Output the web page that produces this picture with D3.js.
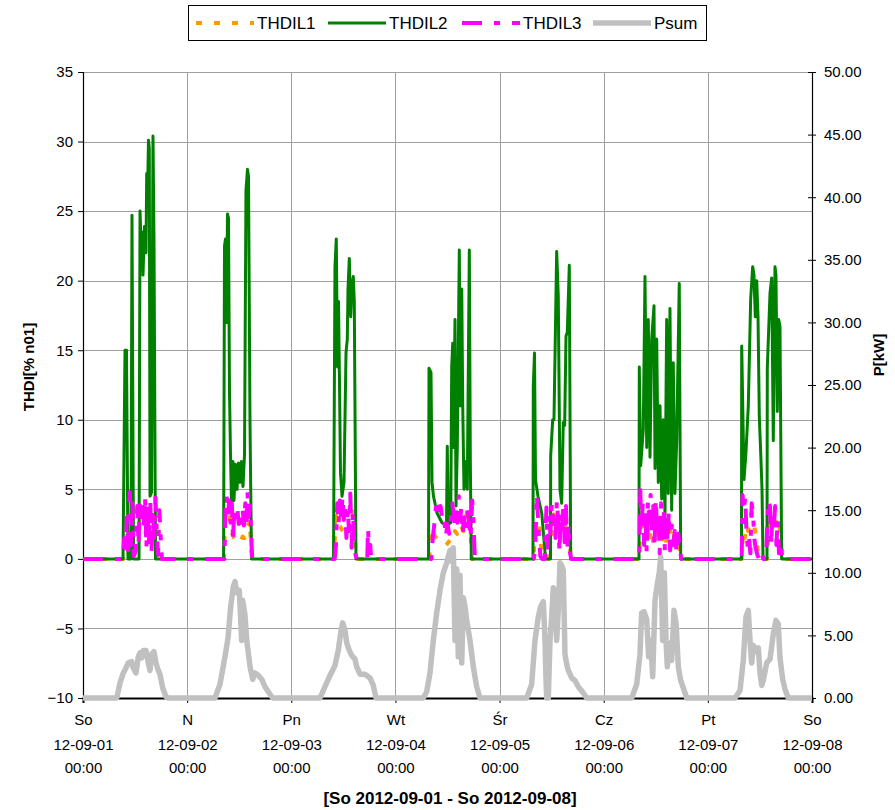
<!DOCTYPE html>
<html lang="pl">
<head>
<meta charset="UTF-8">
<title>THDI / Psum 2012-09-01 - 2012-09-08</title>
<script src="https://cdnjs.cloudflare.com/ajax/libs/d3/7.8.5/d3.min.js"></script>
<style>
  body { margin: 0; background: #fff; }
  svg text { font-family: Arial, "Liberation Sans", sans-serif; fill: #000; }
</style>
</head>
<body>
<div id="chart"></div>
<script>
// every point is [hours since 2012-09-01 00:00, value]
var thdil1 = [
  [0,0],[9.3,0],[9.7,0.8],[10.2,1.5],[10.6,0.3],[11.2,2.0],[11.7,0.5],[12.5,0.8],[13.0,2.5],[13.4,3.5],[13.8,2.6],[14.2,3.2],[14.6,2.0],[15.0,3.7],[15.4,2.8],[15.8,1.8],[16.2,3.0],[16.6,1.2],[17.0,0.3],[17.4,0],
  [32.5,0],[32.8,3.7],[33.2,3.0],[33.6,3.4],[34.0,2.5],[34.4,1.8],[34.8,1.5],[35.2,1.3],[35.6,1.2],[36.0,1.4],[36.4,1.3],[36.8,1.6],[37.2,1.5],[37.6,2.2],[38.0,2.4],[38.4,2.8],[38.8,0.5],[39.0,0],
  [57.9,0],[58.2,3.5],[58.5,2.6],[58.8,2.2],[59.2,2.4],[59.6,2.1],[60.0,2.6],[60.4,2.9],[60.8,3.1],[61.2,3.3],[61.6,3.6],[62.0,3.0],[62.4,3.4],[62.8,0.5],[63.0,0],
  [79.8,0],[80.2,2.2],[80.7,1.9],[81.2,1.6],[81.7,1.4],[82.2,1.2],[82.7,1.1],[83.2,1.0],[83.7,1.0],[84.2,1.2],[84.7,1.4],[85.2,1.3],[85.7,2.0],[86.2,1.8],[86.7,2.5],[87.2,2.3],[87.7,2.0],[88.2,3.0],[88.7,3.5],[89.2,2.6],[89.6,0],
  [103.8,0],[104.2,2.0],[104.7,1.5],[105.2,2.2],[105.7,0.3],[106.4,0],[107.2,0],[107.5,2.0],[108.0,1.6],[108.5,3.2],[109.0,2.2],[109.5,1.5],[110.0,2.4],[110.5,1.8],[111.0,2.3],[111.5,1.6],[112.0,2.0],[112.4,0],
  [128.2,0],[128.5,3.0],[129.0,2.2],[129.5,1.5],[130.0,2.6],[130.5,1.2],[131.0,2.8],[131.5,0.8],[132.0,2.3],[132.5,1.6],[133.0,3.3],[133.5,1.4],[134.0,2.7],[134.5,0.9],[135.0,2.5],[135.5,1.8],[136.0,2.2],[136.5,0.7],[137.0,1.6],[137.6,0.4],[137.8,0],
  [151.8,0],[152.1,2.0],[152.5,1.5],[152.9,2.4],[153.3,2.0],[153.7,3.0],[154.1,3.3],[154.5,2.6],[154.9,2.0],[155.3,1.2],[155.7,0],[157.7,0],[158.0,2.2],[158.4,2.8],[158.8,3.3],[159.2,2.5],[159.6,3.0],[160.0,2.2],[160.4,2.6],[160.8,1.5],[161.1,0],[168,0]
];

var thdil2 = [
  [0,0],[9.22,0],[9.68,15],[10.02,15],[10.37,0],[11.06,0],[11.29,24.7],[11.64,0],[12.91,0],[13.14,25],[13.48,21.5],[13.6,23.5],[13.83,20.4],[14.17,23.9],[14.52,22],[14.68,27.7],[14.86,26],[15.09,30.1],[15.28,29.5],[15.44,4.5],[15.79,4.8],[16.13,30.4],[16.36,23],[16.71,0],
  [32.4,0],[32.61,22.5],[32.84,23],[33.07,17],[33.3,24.8],[33.53,24.5],[33.76,12],[33.99,7.6],[34.22,4.0],[34.57,7],[34.8,4.2],[35.14,6.8],[35.49,5],[35.84,6.9],[36.18,5.5],[36.53,7],[36.87,5.2],[37.22,7.5],[37.56,26.5],[37.91,28.0],[38.14,27.5],[38.48,10],[38.83,0],
  [57.73,0],[58.07,21],[58.37,23.0],[58.65,13.8],[58.88,18.5],[59.06,14],[59.34,6.2],[59.69,4.5],[60.15,5.5],[60.61,14.8],[60.91,15.8],[61.07,19.4],[61.37,21.6],[61.69,17.4],[61.99,19.6],[62.29,20.3],[62.52,18.5],[62.91,0],
  [79.62,0],[79.74,13.7],[80.2,13.4],[80.43,5.5],[80.77,4.5],[81.58,3.3],[82.73,2.6],[83.77,2.4],[83.95,8.1],[84.18,2.5],[84.74,2.6],[84.97,13.8],[85.2,15.5],[85.34,8],[85.73,17.2],[85.96,3.8],[86.26,8],[86.72,22.2],[86.95,11],[87.28,19.4],[87.51,11],[87.8,5],[88.26,7],[88.56,5],[89.03,22.2],[89.26,7],[89.49,0],
  [103.7,0],[103.77,12.4],[104.05,14.8],[104.28,5.7],[104.85,4.5],[105.71,3.3],[106.47,0.5],[106.7,0],[107.74,0],[107.78,7.4],[108.24,10],[108.54,10],[109.16,22.1],[109.53,18.9],[109.92,5],[110.31,4],[110.68,9.8],[111.0,9.6],[111.31,16],[111.61,16.3],[112.07,21.1],[112.39,0],
  [128.13,0],[128.2,13.8],[128.52,6.7],[129.12,9.3],[129.51,20.3],[129.91,8],[130.27,17.2],[130.67,7.3],[131.06,15.8],[131.59,18.2],[131.82,6.5],[132.21,15.8],[132.58,5.5],[132.97,11],[133.36,4.3],[133.73,10],[134.12,3],[134.51,17.2],[134.88,4.7],[135.27,18],[135.66,3.5],[136.03,14.1],[136.42,4.7],[136.82,8.5],[137.41,19.8],[137.74,0],
  [151.75,0],[151.8,15.3],[152.33,5.7],[152.79,7.7],[153.32,11],[153.87,18.7],[154.33,21.0],[154.63,20.4],[154.93,17.4],[155.26,20],[155.56,17.4],[155.86,10.2],[156.18,7.6],[156.48,5],[156.71,0],[157.63,0],[157.7,13.7],[158.32,19.1],[158.71,20.2],[159.08,8.5],[159.47,21.0],[159.7,20.4],[160.0,10.6],[160.32,17.2],[160.62,16.7],[161.01,0],[168,0]
];

var thdil3 = [
  [0,0],[9.2,0],[9.5,1.5],[9.8,0.3],[10.1,3.0],[10.4,0.5],[10.8,4.8],[11.1,1.0],[11.4,4.0],[11.7,0.2],[12.1,0.5],[12.5,3.8],[12.8,1.0],[13.1,4.2],[13.4,3.0],[13.7,4.0],[14.0,2.2],[14.3,4.5],[14.6,0.8],[14.9,3.6],[15.2,1.2],[15.5,4.3],[15.8,0.5],[16.1,3.4],[16.4,1.5],[16.7,4.4],[17.0,2.0],[17.3,0.3],[17.6,3.5],[18.0,1.0],[18.2,0],
  [32.6,0],[32.8,3.5],[33.1,4.5],[33.4,3.2],[33.7,4.2],[34.0,2.6],[34.3,4.0],[34.6,1.2],[34.7,2.5],[35.0,3.6],[35.3,2.8],[35.6,3.5],[35.9,2.5],[36.2,3.3],[36.5,2.6],[36.8,3.6],[37.1,2.4],[37.4,4.0],[37.7,2.8],[37.9,4.8],[38.2,3.0],[38.5,3.8],[38.8,1.5],[39.0,0],
  [58.0,0],[58.3,1.0],[58.6,4.0],[58.9,2.5],[59.2,4.2],[59.5,3.0],[59.8,4.5],[60.1,2.8],[60.4,3.8],[60.7,1.5],[61.0,3.6],[61.3,2.0],[61.6,4.7],[61.9,0.8],[62.2,3.4],[62.5,1.2],[62.8,0.3],[63.1,0],[65.5,0],[65.7,2.2],[65.9,0.5],[66.2,1.0],[66.4,0],
  [80.3,0],[80.6,1.5],[81.0,2.6],[81.5,4.3],[82.0,3.5],[82.4,3.8],[82.8,2.8],[83.2,3.0],[83.6,1.6],[84.0,2.5],[84.4,1.8],[84.8,3.0],[85.1,4.0],[85.4,3.2],[85.7,2.4],[86.0,3.8],[86.3,2.6],[86.6,4.5],[86.9,2.8],[87.2,3.7],[87.5,1.8],[87.8,3.0],[88.1,2.0],[88.5,3.5],[88.9,2.8],[89.3,1.5],[89.7,4.2],[90.0,2.5],[90.3,0],
  [103.9,0],[104.2,0.8],[104.6,4.6],[105.0,2.0],[105.4,0.2],[105.8,0],[106.4,0],[106.8,3.7],[107.1,0.8],[107.4,3.2],[107.7,1.8],[108.0,4.0],[108.3,2.5],[108.6,3.5],[108.9,1.5],[109.2,4.2],[109.5,2.8],[109.8,0.5],[110.1,3.3],[110.4,2.0],[110.7,4.0],[111.0,1.2],[111.3,3.8],[111.6,0.6],[111.9,2.5],[112.2,0.5],[112.5,0],
  [128.2,0],[128.4,5.2],[128.7,2.0],[129.0,4.0],[129.3,1.0],[129.6,3.5],[129.9,0.5],[130.2,4.2],[130.5,2.8],[130.8,4.6],[131.1,1.8],[131.4,3.8],[131.7,0.8],[132.0,4.3],[132.3,2.0],[132.6,3.3],[132.9,0.4],[133.2,4.0],[133.5,1.5],[133.8,3.6],[134.1,0.6],[134.4,2.8],[134.7,1.2],[135.0,3.4],[135.3,0.6],[135.7,2.4],[136.0,1.0],[136.4,2.0],[136.8,0.4],[137.2,1.8],[137.6,0.5],[137.9,0],
  [151.8,0],[152.0,4.6],[152.3,3.5],[152.6,4.4],[152.9,2.0],[153.2,0.8],[153.5,1.5],[153.8,0.4],[154.1,4.0],[154.4,3.3],[154.7,1.5],[155.0,0.8],[155.4,0.3],[155.8,0],[156.4,0.5],[156.8,0],[157.4,0],[157.7,2.5],[158.0,4.2],[158.3,3.8],[158.6,1.0],[158.9,3.5],[159.2,2.2],[159.5,3.8],[159.8,1.0],[160.1,2.8],[160.4,0.4],[160.8,1.2],[161.2,0],[168,0]
];

// kW, right axis
var psum = [
  [0,0],[7.77,0],[8.53,1.2],[9.29,2.0],[9.91,2.4],[10.44,2.8],[11.22,2.9],[11.59,2.4],[12.21,2.0],[12.74,3.3],[13.14,3.6],[13.53,3.2],[13.9,3.8],[14.52,3.8],[15.05,2.8],[15.44,2.2],[15.83,3.5],[16.36,3.7],[16.82,2.8],[17.35,2.2],[17.74,1.9],[18.37,0.8],[19.13,0.1],[19.66,0],
  [30.42,0],[31.57,1.1],[32.72,3.3],[33.42,4.8],[34.04,7.3],[34.64,8.9],[35.03,9.3],[35.42,8.4],[36.02,8.6],[36.57,4.6],[36.8,7.8],[37.33,6.6],[37.73,4.6],[38.49,2.5],[39.11,1.5],[39.64,2.0],[40.4,1.8],[41.18,1.5],[41.94,0.9],[42.7,0.5],[43.72,0],
  [54.62,0],[55.77,0.9],[56.92,1.8],[58.07,2.6],[58.83,3.8],[59.39,5.2],[59.85,6.0],[60.38,5.4],[60.77,4.4],[61.37,3.8],[61.92,3.4],[62.68,3.1],[63.07,2.5],[63.83,1.9],[64.98,1.9],[66.14,1.6],[66.9,1.0],[67.52,0],
  [78.42,0],[79.2,0.5],[79.97,2.0],[80.73,4.6],[81.51,6.8],[82.27,8.6],[83.03,10.0],[83.81,10.8],[84.58,11.8],[84.97,10.9],[85.34,12.0],[85.73,4.6],[86.12,10.3],[86.49,3.3],[86.88,9.8],[87.28,2.8],[87.64,8.0],[88.03,7.3],[88.42,6.2],[89.18,4.6],[89.95,2.5],[90.73,0.9],[91.49,0],
  [102.25,0],[103.4,1.1],[104.16,4.6],[104.93,6.5],[105.48,7.3],[106.08,7.7],[106.47,4.6],[106.7,1.5],[106.86,0],[107.23,0],[107.62,4.6],[108.01,6.5],[108.38,8.8],[108.77,8.2],[109.16,4.6],[109.53,7.0],[109.92,10.8],[110.31,10.6],[110.68,10.2],[111.07,3.5],[111.47,2.7],[111.84,2.2],[112.62,1.6],[113.38,1.4],[114.14,0.9],[115.3,0.4],[116.08,0],
  [126.45,0],[127.6,1.1],[128.36,3.5],[128.74,6.8],[129.28,6.9],[129.9,6.3],[130.35,3.3],[130.83,4.6],[131.29,1.7],[131.82,7.8],[132.35,9.1],[132.8,10.0],[133.13,11.3],[133.59,4.6],[133.97,10.0],[134.36,4.6],[134.66,2.5],[135.12,4.4],[135.66,3.0],[136.2,7.0],[136.66,6.0],[137.2,2.5],[137.74,1.4],[138.35,0.8],[139.13,0],
  [150.25,0],[151.41,0.6],[152.16,3.0],[152.79,6.5],[153.32,7.0],[153.71,4.6],[154.1,2.8],[154.47,4.2],[155.1,3.7],[155.63,4.0],[156.02,2.0],[156.41,1.0],[156.78,1.4],[157.55,2.8],[158.32,3.1],[159.08,5.1],[159.7,6.2],[160.23,5.9],[160.62,3.2],[161.24,1.5],[161.77,0.7],[162.54,0],[168,0]
];

var dayNames  = ["So","N","Pn","Wt","Śr","Cz","Pt","So"];
var dayDates  = ["12-09-01","12-09-02","12-09-03","12-09-04","12-09-05","12-09-06","12-09-07","12-09-08"];
var dayTimes  = ["00:00","00:00","00:00","00:00","00:00","00:00","00:00","00:00"];
var thdiTicks = [-10,-5,0,5,10,15,20,25,30,35];
var pTicks    = [0,5,10,15,20,25,30,35,40,45,50];
var seriesNames = ["THDIL1","THDIL2","THDIL3","Psum"];

(function(){
var W = 895, H = 810;
var pL = 83, pR = 812, pT = 72, pB = 698;
var t0 = new Date(2012, 8, 1);
var toDate = function(h){ return new Date(t0.getTime() + h*3600e3); };
var days = dayNames.map(function(d,i){ return d3.timeDay.offset(t0, i); });

var x = d3.scaleTime().domain([t0, days[7]]).range([pL, pR]);
var yL = d3.scaleLinear().domain([-10, 35]).range([pB, pT]);
var yR = d3.scaleLinear().domain([0, 50]).range([pB, pT]);

var svg = d3.select("#chart").append("svg").attr("width", W).attr("height", H);

// grid
svg.append("g").selectAll("line").data(thdiTicks.slice(1)).enter().append("line")
  .attr("x1", pL).attr("x2", pR)
  .attr("y1", function(d){ return Math.round(yL(d)) + 0.5; }).attr("y2", function(d){ return Math.round(yL(d)) + 0.5; })
  .attr("stroke", "#a0a0a0").attr("stroke-width", 1);
svg.append("g").selectAll("line").data(days.slice(1, 7)).enter().append("line")
  .attr("x1", function(d){ return Math.round(x(d)) + 0.5; }).attr("x2", function(d){ return Math.round(x(d)) + 0.5; })
  .attr("y1", pT).attr("y2", pB)
  .attr("stroke", "#a0a0a0").attr("stroke-width", 1);

// axes
var axL = svg.append("g").attr("transform", "translate(" + pL + ",0)")
  .call(d3.axisLeft(yL).tickValues(thdiTicks).tickSize(5).tickPadding(5));
var axR = svg.append("g").attr("transform", "translate(" + pR + ",0)")
  .call(d3.axisRight(yR).tickValues(pTicks).tickSize(4).tickPadding(8).tickFormat(d3.format(".2f")));
axR.selectAll(".tick line").attr("x1", -4);
var axB = svg.append("g").attr("transform", "translate(0," + pB + ")")
  .call(d3.axisBottom(x).tickValues(days).tickSize(5).tickFormat(""));
[axL, axR, axB].forEach(function(a){
  a.attr("font-family", null).attr("font-size", null);
  a.select(".domain").attr("stroke", "#000").attr("stroke-width", 1.2);
  a.selectAll(".tick line").attr("stroke", "#000");
  a.selectAll("text").style("font-size", "15px");
});
axB.select(".domain").attr("stroke-width", 2);

var xl = axB.selectAll(".tick").append("text").attr("text-anchor", "middle").style("font-size", "15px");
xl.append("tspan").attr("x", 0).attr("y", 27).text(function(d,i){ return dayNames[i]; });
xl.append("tspan").attr("x", 0).attr("y", 52).text(function(d,i){ return dayDates[i]; });
xl.append("tspan").attr("x", 0).attr("y", 75).text(function(d,i){ return dayTimes[i]; });

// axis titles
svg.append("text").attr("transform", "translate(34,367) rotate(-90)")
  .attr("text-anchor", "middle").style("font-size", "15px").style("font-weight", "bold").text("THDI[% n01]");
svg.append("text").attr("transform", "translate(884,355) rotate(-90)")
  .attr("text-anchor", "middle").style("font-size", "15px").style("font-weight", "bold").text("P[kW]");
svg.append("text").attr("x", 450).attr("y", 804)
  .attr("text-anchor", "middle").style("font-size", "17px").style("font-weight", "bold")
  .text("[So 2012-09-01 - So 2012-09-08]");

// series
var lineL = d3.line().x(function(d){ return x(toDate(d[0])); }).y(function(d){ return yL(d[1]); });
var lineR = d3.line().x(function(d){ return x(toDate(d[0])); }).y(function(d){ return yR(d[1]); });
var styles = [
  { color: "#ff9900", width: 4,   dash: "6,12" },
  { color: "#008000", width: 3,   dash: null },
  { color: "#ff00ff", width: 4,   dash: "20,12,6,12" },
  { color: "#c0c0c0", width: 5.5, dash: null }
];
svg.append("path").datum(psum).attr("d", lineR).attr("fill", "none")
  .attr("stroke", styles[3].color).attr("stroke-width", styles[3].width).attr("stroke-linejoin", "round");
[thdil1, thdil2, thdil3].forEach(function(s, i){
  svg.append("path").datum(s).attr("d", lineL).attr("fill", "none")
    .attr("stroke", styles[i].color).attr("stroke-width", styles[i].width)
    .attr("stroke-dasharray", styles[i].dash).attr("stroke-linejoin", "round");
});

// legend
var lg = svg.append("g");
lg.append("rect").attr("x", 188.5).attr("y", 5.5).attr("width", 518).attr("height", 35)
  .attr("fill", "#fff").attr("stroke", "#000").attr("stroke-width", 1);
var lx = [196, 328, 462, 593];
seriesNames.forEach(function(n, i){
  lg.append("line").attr("x1", lx[i]).attr("x2", lx[i] + 58).attr("y1", 23).attr("y2", 23)
    .attr("stroke", styles[i].color).attr("stroke-width", styles[i].width)
    .attr("stroke-dasharray", styles[i].dash);
  lg.append("text").attr("x", lx[i] + 61).attr("y", 29).style("font-size", "17px").text(n);
});
})();
</script>
</body>
</html>
